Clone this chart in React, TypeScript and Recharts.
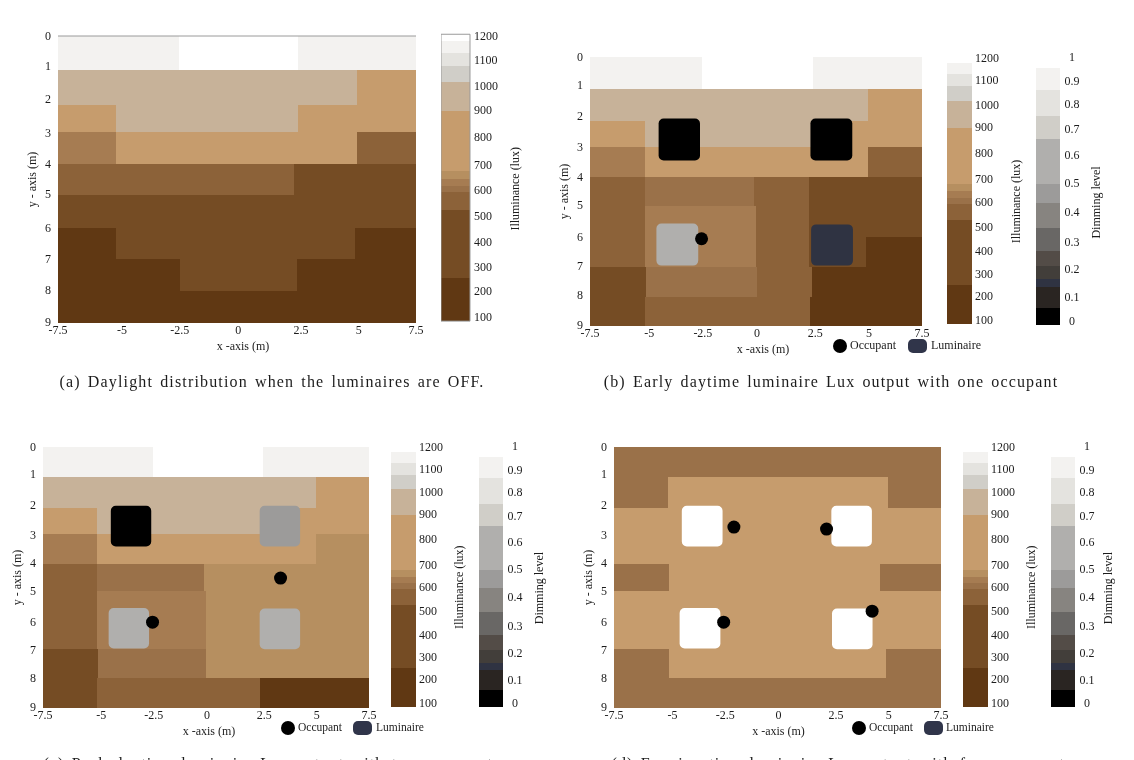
import React from 'react';
import {
  ScatterChart,
  Scatter,
  XAxis,
  YAxis,
  ReferenceArea,
  ReferenceLine,
  Rectangle,
} from 'recharts';

type Cell = [number, number, number, number, number]; // x1, x2, y1, y2, value

// the printed tick labels are not evenly spaced, so label and position are kept apart
const xTickLabels = ['-7.5', '-5', '-2.5', '0', '2.5', '5', '7.5'];
const xTickPos = [-7.5, -4.82, -2.4, 0.05, 2.68, 5.1, 7.5];
const yTickLabels = ['0', '1', '2', '3', '4', '5', '6', '7', '8', '9'];
const yTickPos = [0, 0.92, 1.98, 3.02, 4, 4.96, 6.02, 6.98, 7.95, 8.97];
const luxTickLabels = ['100', '200', '300', '400', '500', '600', '700', '800', '900', '1000', '1100', '1200'];
const luxTickPos = [100, 200.6, 295.5, 391.9, 492.5, 595.8, 693.6, 802.5, 908.7, 1003.6, 1105.6, 1200];
const dimTickLabels = ['0', '0.1', '0.2', '0.3', '0.4', '0.5', '0.6', '0.7', '0.8', '0.9', '1'];
const dimTickPos = [0, 0.092, 0.195, 0.3, 0.412, 0.522, 0.628, 0.727, 0.823, 0.909, 1];

// colour bar bands, bottom to top
const luxEdges = [82, 249, 518, 586, 612, 640, 671, 906, 1018, 1079, 1130, 1178];
const luxColors = ['#603813', '#754C24', '#8C6239', '#9A7149', '#A67C52', '#B68F60', '#C69C6D', '#C7B299', '#D0CEC8', '#E4E3DF', '#F3F2F0'];
const dimEdges = [-0.015, 0.049, 0.127, 0.157, 0.206, 0.263, 0.353, 0.448, 0.517, 0.688, 0.776, 0.874, 0.957];
const dimColors = ['#000000', '#2A2522', '#2F3342', '#423E3A', '#534C47', '#696765', '#878480', '#9C9B9A', '#B0AFAD', '#D0CEC8', '#E4E3DF', '#F3F2F0'];

// illuminance cells, in metres and lux
const cellsA: Cell[] = [
  [-7.5, -2.43, 0, 1.06, 1150], [-2.43, 2.56, 0, 1.06, 1190], [2.56, 7.5, 0, 1.06, 1150],
  [-7.5, 5.03, 1.06, 2.15, 960], [5.03, 7.5, 1.06, 3.01, 800],
  [-7.5, -5.05, 2.15, 3.01, 800], [-5.05, 2.56, 2.15, 3.01, 960], [2.56, 5.03, 2.15, 3.01, 800],
  [-7.5, -5.05, 3.01, 4.02, 625], [-5.05, 5.03, 3.01, 4.02, 800], [5.03, 7.5, 3.01, 4.02, 550],
  [-7.5, 2.39, 4.02, 4.99, 550], [2.39, 7.5, 4.02, 4.99, 400],
  [-7.5, 7.5, 4.99, 6.02, 400],
  [-7.5, -5.05, 6.02, 6.98, 170], [-5.05, 4.95, 6.02, 6.98, 400], [4.95, 7.5, 6.02, 6.98, 170],
  [-7.5, -2.39, 6.98, 7.99, 170], [-2.39, 2.52, 6.98, 7.99, 400], [2.52, 7.5, 6.98, 7.99, 170],
  [-7.5, 7.5, 7.99, 9, 170],
];

const cellsB: Cell[] = [
  [-7.5, -2.44, 0, 1.06, 1150], [-2.44, 2.58, 0, 1.06, 1190], [2.58, 7.5, 0, 1.06, 1150],
  [-7.5, 5.05, 1.06, 2.15, 960], [5.05, 7.5, 1.06, 3.02, 800],
  [-7.5, -5.01, 2.15, 3.02, 800], [-5.01, 2.56, 2.15, 3.02, 960], [2.56, 5.05, 2.15, 3.02, 800],
  [-7.5, -5.03, 3.02, 4.02, 625], [-5.03, 5.05, 3.02, 4.02, 800], [5.05, 7.5, 3.02, 4.02, 550],
  [-7.5, -5.03, 4.02, 5, 550], [-5.03, -0.08, 4.02, 5, 600], [-0.08, 2.41, 4.02, 5, 550], [2.41, 7.5, 4.02, 5, 400],
  [-7.5, -5, 5, 7.01, 550], [-5, 0, 5, 7.01, 625], [0, 2.41, 5, 7.01, 550],
  [2.41, 7.5, 5, 6.03, 400], [2.41, 4.98, 6.03, 7.01, 400], [4.98, 7.5, 6.03, 7.01, 170],
  [-7.5, -4.95, 7.01, 8.02, 400], [-4.95, 0.04, 7.01, 8.02, 600], [0.04, 2.53, 7.01, 8.02, 550], [2.53, 7.5, 7.01, 8.02, 170],
  [-7.5, -5, 8.02, 9, 400], [-5, 2.45, 8.02, 9, 550], [2.45, 7.5, 8.02, 9, 170],
];

const cellsC: Cell[] = [
  [-7.5, -2.42, 0, 1.04, 1150], [-2.42, 2.62, 0, 1.04, 1190], [2.62, 7.5, 0, 1.04, 1150],
  [-7.5, 5.06, 1.04, 2.11, 960], [5.06, 7.5, 1.04, 2.99, 800],
  [-7.5, -5.01, 2.11, 2.99, 800], [-5.01, 2.6, 2.11, 2.99, 960], [2.6, 5.06, 2.11, 2.99, 800],
  [-7.5, -5.03, 2.99, 4.02, 625], [-5.03, 5.06, 2.99, 4.02, 800], [5.06, 7.5, 2.99, 4.02, 655],
  [-7.5, -5, 4.02, 4.95, 550], [-5, -0.08, 4.02, 4.95, 600], [-0.08, 7.5, 4.02, 4.95, 655],
  [-7.5, -5, 4.95, 6.98, 550], [-5, 0, 4.95, 6.98, 625], [0, 7.5, 4.95, 6.98, 655],
  [-7.5, -4.95, 6.98, 7.98, 400], [-4.95, 0, 6.98, 7.98, 600], [0, 7.5, 6.98, 7.98, 655],
  [-7.5, -5, 7.98, 9, 400], [-5, 2.47, 7.98, 9, 550], [2.47, 7.5, 7.98, 9, 170],
];

const cellsD: Cell[] = [
  [-7.5, 7.5, 0, 1.04, 600],
  [-7.5, -5.03, 1.04, 2.11, 600], [-5.03, 5.06, 1.04, 2.11, 800], [5.06, 7.5, 1.04, 2.11, 600],
  [-7.5, 7.5, 2.11, 4.02, 800],
  [-7.5, -4.97, 4.02, 4.95, 600], [-4.97, 4.71, 4.02, 4.95, 800], [4.71, 7.5, 4.02, 4.95, 600],
  [-7.5, 7.5, 4.95, 6.98, 800],
  [-7.5, -4.97, 6.98, 7.98, 600], [-4.97, 4.96, 6.98, 7.98, 800], [4.96, 7.5, 6.98, 7.98, 600],
  [-7.5, 7.5, 7.98, 9, 600],
];

// luminaires: x1, x2, y1, y2, dimming level
const luminairesB: Cell[] = [
  [-4.4, -2.53, 2.06, 3.46, 0], [2.46, 4.35, 2.06, 3.46, 0],
  [-4.5, -2.61, 5.57, 6.98, 0.6], [2.49, 4.38, 5.6, 6.98, 0.14],
];
const luminairesC: Cell[] = [
  [-4.38, -2.52, 2.03, 3.43, 0], [2.47, 4.33, 2.03, 3.43, 0.48],
  [-4.48, -2.62, 5.55, 6.95, 0.6], [2.47, 4.33, 5.57, 6.97, 0.6],
];
const luminairesD: Cell[] = [
  [-4.39, -2.52, 2.03, 3.43, 1], [2.47, 4.33, 2.03, 3.43, 1],
  [-4.49, -2.62, 5.55, 6.95, 1], [2.5, 4.36, 5.57, 6.97, 1],
];

const occupantsB = [{ x: -2.46, y: 6.08 }];
const occupantsC = [{ x: 3.43, y: 4.52 }, { x: -2.46, y: 6.04 }];
const occupantsD = [{ x: -2, y: 2.76 }, { x: 2.25, y: 2.83 }, { x: -2.47, y: 6.04 }, { x: 4.34, y: 5.66 }];

const SERIF = '"Liberation Serif", "Times New Roman", serif';
const INK = '#1c1c1c';

function bandColor(value: number, edges: number[], colors: string[]) {
  for (let i = 0; i < colors.length; i++) {
    if (value < edges[i + 1]) return colors[i];
  }
  return '#FFFFFF';
}

// adjacent rects leave a light seam when antialiased
const crispRect = (p: any) => (
  <rect x={p.x} y={p.y} width={p.width} height={p.height} fill={p.fill} shapeRendering="crispEdges" />
);

const tickText = (labels: string[], anchor: string, dy: string) => (p: any) => (
  <text x={p.x} y={p.y} dy={dy} textAnchor={anchor} fill={INK} fontSize={12} fontFamily={SERIF}>
    {labels[p.index]}
  </text>
);

const Y_AXIS_W = 40;
const X_AXIS_H = 34;
const MARGIN_TOP = 8;
const MARGIN_RIGHT = 16;

function Heatmap({ left, top, width, height, cells, luminaires = [], occupants = [], frame = false, xLabelShift = 0 }: any) {
  // recharts skips the axes when no series has points, so the cell centres go in as a blank series
  const centres = cells.map((c: Cell) => ({ x: (c[0] + c[1]) / 2, y: (c[2] + c[3]) / 2 }));
  return (
    <div style={{ position: 'absolute', left: left - Y_AXIS_W, top: top - MARGIN_TOP }}>
      <ScatterChart
        width={width + Y_AXIS_W + MARGIN_RIGHT}
        height={height + MARGIN_TOP + X_AXIS_H}
        margin={{ top: MARGIN_TOP, right: MARGIN_RIGHT, bottom: 0, left: 0 }}
      >
        <XAxis
          type="number"
          dataKey="x"
          domain={[-7.5, 7.5]}
          ticks={xTickPos}
          interval={0}
          height={X_AXIS_H}
          axisLine={false}
          tickLine={false}
          tickSize={0}
          tickMargin={2}
          tick={tickText(xTickLabels, 'middle', '0.71em')}
          label={{ value: 'x -axis (m)', position: 'insideBottom', offset: 7, dx: xLabelShift, fill: INK, fontSize: 12, fontFamily: SERIF }}
        />
        <YAxis
          type="number"
          dataKey="y"
          reversed
          domain={[0, 9]}
          ticks={yTickPos}
          interval={0}
          width={Y_AXIS_W}
          axisLine={false}
          tickLine={false}
          tickSize={0}
          tickMargin={7}
          tick={tickText(yTickLabels, 'end', '0.35em')}
          label={{ value: 'y - axis (m)', angle: -90, position: 'insideLeft', offset: 14, fill: INK, fontSize: 12, fontFamily: SERIF, style: { textAnchor: 'middle' } }}
        />
        {cells.map((c: Cell, i: number) => (
          <ReferenceArea key={i} x1={c[0]} x2={c[1]} y1={c[2]} y2={c[3]} fill={bandColor(c[4], luxEdges, luxColors)} fillOpacity={1} shape={crispRect} />
        ))}
        {frame && <ReferenceLine y={0} stroke="#9a9a9a" strokeWidth={1} />}
        {luminaires.map((c: Cell, i: number) => (
          <ReferenceArea
            key={'l' + i}
            x1={c[0]}
            x2={c[1]}
            y1={c[2]}
            y2={c[3]}
            fill={bandColor(c[4], dimEdges, dimColors)}
            fillOpacity={1}
            stroke="none"
            shape={(p: any) => <Rectangle {...p} radius={5} />}
          />
        ))}
        <Scatter data={centres} isAnimationActive={false} shape={() => <g />} />
        <Scatter
          data={occupants}
          isAnimationActive={false}
          shape={(p: any) => <circle cx={p.cx} cy={p.cy} r={6.5} fill="#000" />}
        />
      </ScatterChart>
    </div>
  );
}

// yBottom / yTop: page position of the lowest and highest tick label
function ColourBar({ left, yBottom, yTop, barW, ticks, labels, low, high, edges, colors, title, titleAt, tickMargin, centred, outline = false }: any) {
  const lowTick = ticks[0];
  const highTick = ticks[ticks.length - 1];
  const perUnit = (yBottom - yTop) / (highTick - lowTick);
  const top = yTop - (high - highTick) * perUnit;
  const bottom = yBottom + (lowTick - low) * perUnit;
  const axisW = 64;
  const anchors = edges.map((y: number) => ({ x: 0.5, y }));
  return (
    <div style={{ position: 'absolute', left, top: top - 8 }}>
      <ScatterChart width={barW + axisW} height={bottom - top + 16} margin={{ top: 8, right: 0, bottom: 8, left: 0 }}>
        <XAxis type="number" dataKey="x" domain={[0, 1]} hide />
        <YAxis
          type="number"
          dataKey="y"
          orientation="right"
          domain={[low, high]}
          ticks={ticks}
          interval={0}
          width={axisW}
          axisLine={false}
          tickLine={false}
          tickSize={0}
          tickMargin={tickMargin}
          tick={tickText(labels, centred ? 'middle' : 'start', '0.35em')}
          label={{ value: title, angle: -90, position: 'insideRight', offset: axisW - titleAt, dy: 11, fill: INK, fontSize: 12, fontFamily: SERIF, style: { textAnchor: 'middle' } }}
        />
        {colors.map((fill: string, i: number) => (
          <ReferenceArea key={i} x1={0} x2={1} y1={edges[i]} y2={edges[i + 1]} fill={fill} fillOpacity={1} shape={crispRect} />
        ))}
        {outline && <ReferenceArea x1={0} x2={1} y1={82} y2={1205} fill="none" stroke="#9a9a9a" strokeWidth={1} />}
        <Scatter data={anchors} isAnimationActive={false} shape={() => <g />} />
      </ScatterChart>
    </div>
  );
}

function Legend({ x, y, rectAt = 68, textAt = 91, size = 12 }: { x: number; y: number; rectAt?: number; textAt?: number; size?: number }) {
  const text: React.CSSProperties = { position: 'absolute', top: y - 8, fontSize: size, lineHeight: '15px', fontFamily: SERIF, color: INK };
  return (
    <>
      <div style={{ position: 'absolute', left: x - 7, top: y - 7, width: 14, height: 14, borderRadius: 7, background: '#000' }} />
      <div style={{ ...text, left: x + 10 }}>Occupant</div>
      <div style={{ position: 'absolute', left: x + rectAt, top: y - 7, width: 19, height: 14, borderRadius: 5, background: '#30354A' }} />
      <div style={{ ...text, left: x + textAt }}>Luminaire</div>
    </>
  );
}

function Caption({ cx, y, children }: { cx: number; y: number; children: string }) {
  return (
    <div style={{ position: 'absolute', left: cx - 300, width: 600, top: y - 10, textAlign: 'center', fontSize: 16, lineHeight: '20px', letterSpacing: 1.15, wordSpacing: 2, fontFamily: SERIF, color: INK, whiteSpace: 'nowrap' }}>
      {children}
    </div>
  );
}

export default function App() {
  const lux = { ticks: luxTickPos, labels: luxTickLabels, low: 80, high: 1206, title: 'Illuminance (lux)' };
  const dim = { ticks: dimTickPos, labels: dimTickLabels, low: -0.02, high: 1, edges: dimEdges, colors: dimColors, title: 'Dimming level', tickMargin: 12, centred: true };
  return (
    <div style={{ position: 'absolute', left: 0, top: 0, width: 1134, height: 760, overflow: 'hidden', background: '#fff', filter: 'blur(0.4px)' }}>
      <Heatmap left={58} top={36} width={358} height={287} cells={cellsA} frame xLabelShift={6} />
      <ColourBar {...lux} left={441} yBottom={316.7} yTop={35.7} barW={29} edges={[...luxEdges, 1205]} colors={[...luxColors, '#FFFFFF']} titleAt={45} tickMargin={4} outline />
      <Caption cx={272} y={382}>(a) Daylight distribution when the luminaires are OFF.</Caption>

      <Heatmap left={590} top={57} width={332} height={269} cells={cellsB} luminaires={luminairesB} occupants={occupantsB} xLabelShift={7} />
      <ColourBar {...lux} left={947} yBottom={320} yTop={57.3} barW={25} edges={luxEdges} colors={luxColors} titleAt={44} tickMargin={3} />
      <ColourBar {...dim} left={1036} yBottom={320.3} yTop={56.7} barW={24} titleAt={36} />
      <Legend x={840} y={346} />
      <Caption cx={831} y={382}>(b) Early daytime luminaire Lux output with one occupant</Caption>

      <Heatmap left={43} top={447} width={326} height={261} cells={cellsC} luminaires={luminairesC} occupants={occupantsC} xLabelShift={3} />
      <ColourBar {...lux} left={391} yBottom={703} yTop={446.7} barW={25} edges={luxEdges} colors={luxColors} titleAt={43} tickMargin={3} />
      <ColourBar {...dim} left={479} yBottom={703} yTop={446} barW={24} titleAt={36} />
      <Legend x={288} y={728} rectAt={65} textAt={88} size={11.5} />
      <Caption cx={272} y={764}>(c) Peak daytime luminaire Lux output with two occupants</Caption>

      <Heatmap left={614} top={447} width={327} height={261} cells={cellsD} luminaires={luminairesD} occupants={occupantsD} xLabelShift={1} />
      <ColourBar {...lux} left={963} yBottom={703} yTop={446.7} barW={25} edges={luxEdges} colors={luxColors} titleAt={43} tickMargin={3} />
      <ColourBar {...dim} left={1051} yBottom={703} yTop={446} barW={24} titleAt={33} />
      <Legend x={859} y={728} rectAt={65} textAt={87} size={11.5} />
      <Caption cx={842} y={764}>(d) Evening time luminaire Lux output with four occupants</Caption>
    </div>
  );
}
